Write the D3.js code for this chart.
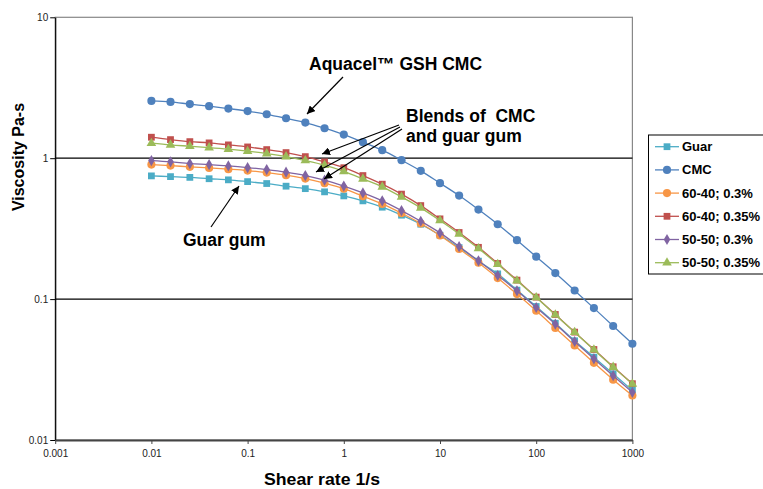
<!DOCTYPE html>
<html>
<head>
<meta charset="utf-8">
<script src="https://cdn.jsdelivr.net/npm/d3@7"></script>
<style>
  body { margin: 0; background: #fff; }
  svg { font-family: "Liberation Sans", Arial, sans-serif; }
  .tick text { font-size: 10px; fill: #222; }
</style>
</head>
<body>
<svg id="chart" width="763" height="489"></svg>
<script>
// shear rate, 5 points per decade from 0.01 to 1000
var shearRates = [0.01, 0.0158, 0.0251, 0.0398, 0.0631, 0.1, 0.158, 0.251, 0.398, 0.631,
  1, 1.58, 2.51, 3.98, 6.31, 10, 15.8, 25.1, 39.8, 63.1, 100, 158, 251, 398, 631, 1000];

var guar = [0.749, 0.740, 0.731, 0.715, 0.702, 0.682, 0.661, 0.633, 0.608, 0.577,
  0.540, 0.498, 0.449, 0.394, 0.340, 0.284, 0.232, 0.186, 0.151, 0.1158,
  0.0886, 0.0674, 0.0506, 0.0387, 0.0295, 0.0225];
var cmc = [2.55, 2.51, 2.42, 2.34, 2.25, 2.16, 2.05, 1.92, 1.79, 1.63,
  1.47, 1.30, 1.14, 0.968, 0.813, 0.665, 0.543, 0.432, 0.340, 0.262,
  0.200, 0.153, 0.115, 0.0863, 0.0644, 0.0482];
var b6040_03 = [0.901, 0.886, 0.868, 0.853, 0.836, 0.817, 0.790, 0.758, 0.717, 0.665,
  0.608, 0.538, 0.474, 0.407, 0.344, 0.283, 0.227, 0.181, 0.141, 0.1085,
  0.0826, 0.0623, 0.0469, 0.0353, 0.0268, 0.0207];
var b6040_035 = [1.409, 1.355, 1.311, 1.284, 1.243, 1.202, 1.151, 1.096, 1.026, 0.941,
  0.856, 0.753, 0.654, 0.556, 0.461, 0.371, 0.297, 0.233, 0.179, 0.1364,
  0.1033, 0.0778, 0.0583, 0.0439, 0.0331, 0.0251];
var b5050_03 = [0.962, 0.942, 0.916, 0.901, 0.882, 0.858, 0.830, 0.796, 0.753, 0.698,
  0.634, 0.567, 0.498, 0.425, 0.357, 0.295, 0.236, 0.187, 0.147, 0.1145,
  0.0872, 0.0665, 0.0500, 0.0377, 0.0286, 0.0218];
var b5050_035 = [1.278, 1.243, 1.216, 1.189, 1.158, 1.121, 1.078, 1.026, 0.962, 0.892,
  0.806, 0.713, 0.626, 0.531, 0.444, 0.361, 0.290, 0.2285, 0.1765, 0.1348,
  0.1025, 0.0774, 0.0581, 0.0437, 0.0329, 0.0250];

var seriesNames = ["Guar", "CMC", "60-40; 0.3%", "60-40; 0.35%", "50-50; 0.3%", "50-50; 0.35%"];
var seriesValues = [guar, cmc, b6040_03, b6040_035, b5050_03, b5050_035];

var xTicks = [0.001, 0.01, 0.1, 1, 10, 100, 1000];
var yTicks = [0.01, 0.1, 1, 10];

var colors = ["#4BACC6", "#4F81BD", "#F79646", "#C0504D", "#8064A2", "#9BBB59"];
var shapes = [d3.symbolSquare, d3.symbolCircle, d3.symbolCircle, d3.symbolSquare, d3.symbolDiamond, d3.symbolTriangle];
var sizes = [46, 52, 52, 46, 36, 40];

var svg = d3.select("#chart");
var pLeft = 55.2, pRight = 632.4, pTop = 17.3, pBottom = 440;

var x = d3.scaleLog().domain([0.001, 1000]).range([pLeft, pRight]);
var y = d3.scaleLog().domain([0.01, 10]).range([pBottom, pTop]);

// plot frame
svg.append("rect")
  .attr("x", pLeft).attr("y", pTop)
  .attr("width", pRight - pLeft).attr("height", pBottom - pTop)
  .attr("fill", "none").attr("stroke", "#888").attr("stroke-width", 1.2);

// gridlines
svg.append("g").selectAll("line")
  .data([0.1, 1])
  .enter().append("line")
  .attr("x1", pLeft).attr("x2", pRight)
  .attr("y1", function(d) { return y(d); }).attr("y2", function(d) { return y(d); })
  .attr("stroke", "#000").attr("stroke-width", 1.2);

var fmt = function(d) { return d3.format("~g")(d); };

var yAxis = svg.append("g")
  .attr("transform", "translate(" + pLeft + ",0)")
  .call(d3.axisLeft(y).tickValues(yTicks).tickFormat(fmt).tickSize(5).tickSizeOuter(0));
yAxis.select(".domain").attr("stroke", "#000").attr("stroke-width", 1.2);
yAxis.selectAll(".tick text").attr("x", -7);

var xAxis = svg.append("g")
  .attr("transform", "translate(0," + pBottom + ")")
  .call(d3.axisBottom(x).tickValues(xTicks).tickFormat(fmt).tickSize(4).tickSizeOuter(0));
xAxis.select(".domain").attr("stroke", "#444").attr("stroke-width", 2);
xAxis.selectAll(".tick line").attr("stroke", "#444");
xAxis.selectAll(".tick text").attr("y", 10);

// axis titles
svg.append("text")
  .attr("transform", "translate(24,157) rotate(-90)")
  .attr("text-anchor", "middle")
  .attr("font-size", 16).attr("font-weight", "bold")
  .text("Viscosity Pa-s");

svg.append("text")
  .attr("x", 322).attr("y", 485)
  .attr("text-anchor", "middle")
  .attr("font-size", 17).attr("font-weight", "bold")
  .attr("textLength", 116).attr("lengthAdjust", "spacingAndGlyphs")
  .text("Shear rate 1/s");

// series
var line = d3.line()
  .x(function(d) { return x(d[0]); })
  .y(function(d) { return y(d[1]); })
  .curve(d3.curveMonotoneX);

seriesValues.forEach(function(vals, i) {
  var pts = shearRates.map(function(s, k) { return [s, vals[k]]; });
  var g = svg.append("g");
  g.append("path")
    .attr("d", line(pts))
    .attr("fill", "none")
    .attr("stroke", colors[i])
    .attr("stroke-width", 1.3);
  g.selectAll("path.pt")
    .data(pts)
    .enter().append("path")
    .attr("class", "pt")
    .attr("transform", function(d) { return "translate(" + x(d[0]) + "," + y(d[1]) + ")"; })
    .attr("d", d3.symbol().type(shapes[i]).size(sizes[i]))
    .attr("fill", colors[i]);
});

// annotations
svg.append("defs").append("marker")
  .attr("id", "arr")
  .attr("viewBox", "0 -5 10 10")
  .attr("refX", 10).attr("refY", 0)
  .attr("markerWidth", 8).attr("markerHeight", 8)
  .attr("markerUnits", "userSpaceOnUse")
  .attr("orient", "auto")
  .append("path").attr("d", "M0,-5L10,0L0,5Z").attr("fill", "#000");

var arrows = [
  [343, 77, 307, 114],
  [399, 125, 322, 154],
  [400, 127, 316, 172],
  [402, 129, 324, 179],
  [211, 227, 239, 186]
];
svg.append("g").selectAll("line")
  .data(arrows)
  .enter().append("line")
  .attr("x1", function(d) { return d[0]; }).attr("y1", function(d) { return d[1]; })
  .attr("x2", function(d) { return d[2]; }).attr("y2", function(d) { return d[3]; })
  .attr("stroke", "#000").attr("stroke-width", 1.2)
  .attr("marker-end", "url(#arr)");

var notes = [
  ["Aquacel\u2122 GSH CMC", 309, 70],
  ["Blends of  CMC", 406, 121.5],
  ["and guar gum", 406, 141.5],
  ["Guar gum", 183, 246]
];
svg.append("g").selectAll("text")
  .data(notes)
  .enter().append("text")
  .attr("x", function(d) { return d[1]; }).attr("y", function(d) { return d[2]; })
  .attr("font-size", 17.5).attr("font-weight", "bold")
  .style("white-space", "pre")
  .text(function(d) { return d[0]; });

// legend
var lg = svg.append("g");
lg.append("rect")
  .attr("x", 648.5).attr("y", 135)
  .attr("width", 120).attr("height", 139)
  .attr("fill", "#fff").attr("stroke", "#000").attr("stroke-width", 1);

var rows = lg.selectAll("g.row")
  .data(seriesNames)
  .enter().append("g")
  .attr("class", "row")
  .attr("transform", function(d, i) { return "translate(0," + (146.7 + i * 23.2) + ")"; });
rows.append("line")
  .attr("x1", 655).attr("x2", 679)
  .attr("stroke", function(d, i) { return colors[i]; })
  .attr("stroke-width", 1.3);
rows.append("path")
  .attr("transform", "translate(667,0)")
  .attr("d", function(d, i) { return d3.symbol().type(shapes[i]).size(sizes[i])(); })
  .attr("fill", function(d, i) { return colors[i]; });
rows.append("text")
  .attr("x", 682).attr("y", 4.5)
  .attr("font-size", 13).attr("font-weight", "bold")
  .text(function(d) { return d; });
</script>
</body>
</html>
